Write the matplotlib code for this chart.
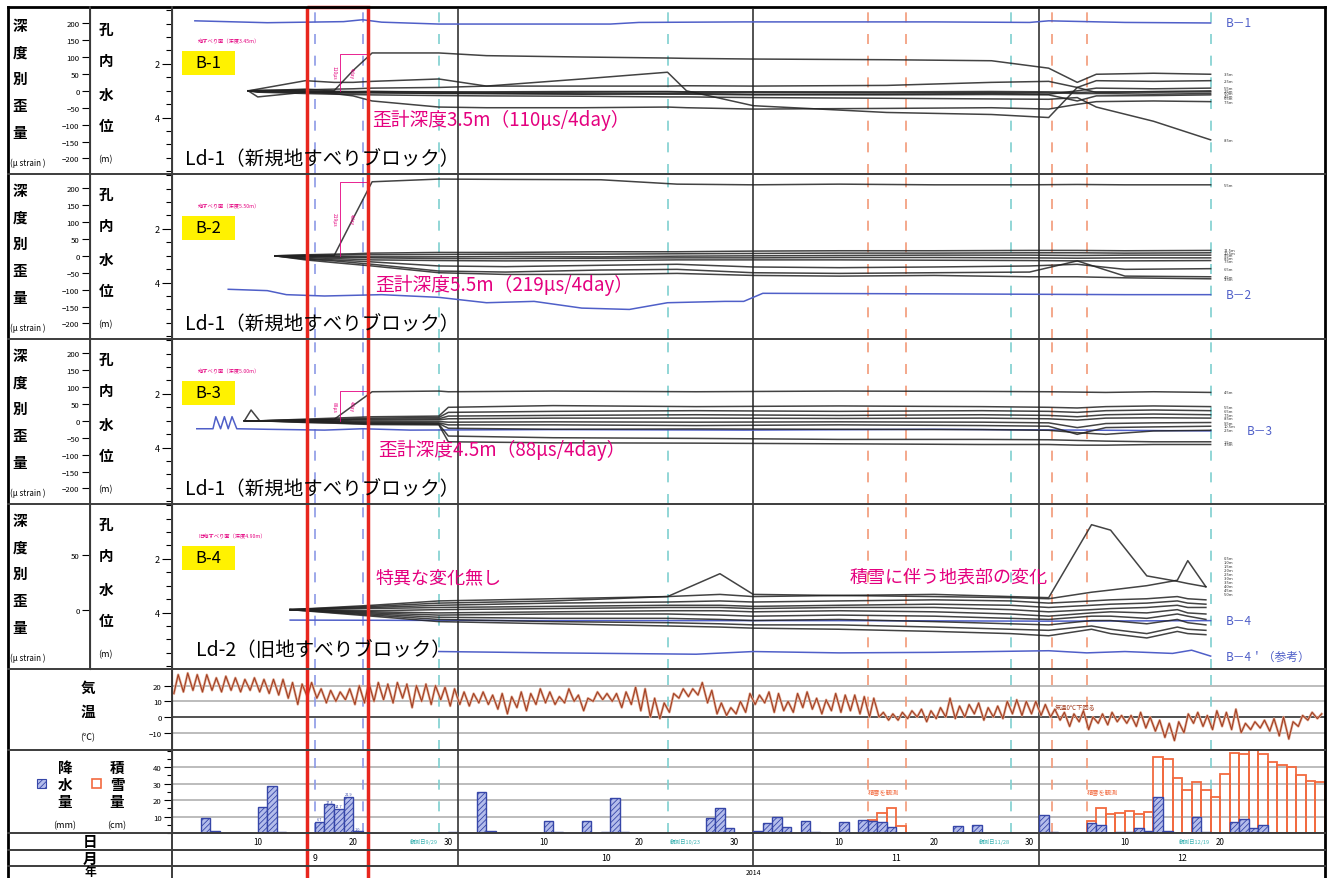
import numpy as np
import matplotlib.pyplot as plt
from matplotlib.patches import Rectangle
from matplotlib.ticker import MultipleLocator, FixedLocator

plt.rcParams['font.family'] = ['Noto Sans CJK JP', 'DejaVu Sans']
plt.rcParams['hatch.linewidth'] = 0.6

# time axis: day 0 = 2014/9/1
x_end = 121.0
month_starts = [30, 61, 91]
month_mid = [15, 45.5, 76, 106]
month_names = ['9', '10', '11', '12']
day_ticks = [9, 19, 29, 39, 49, 59, 70, 80, 90, 100, 110]
day_names = ['10', '20', '30', '10', '20', '30', '10', '20', '30', '10', '20']
blue_obs = [15, 20]
cyan_obs = [28, 52, 88, 109]
cyan_names = ['観測日9/29', '観測日10/23', '観測日11/28', '観測日12/19']
snow_marks = [73, 77, 92.4, 96]
highlight = (14.2, 20.6)

# B-1 strain (μ strain)
b1_days = [8, 9, 14, 17, 19, 21, 28, 33, 43, 52, 54, 61, 75, 86, 92, 95, 97, 103, 109]
b1_lines = [
    [0, 0, 5, 0, 60, 112, 112, 104, 100, 97, 96, 94, 92, 89, 67, 25, 49, 52, 49],
    [0, 5, 30, 25, 25, 28, 35, 14, 35, 55, 0, -44, -64, -70, -79, 10, 30, 28, 30],
    [0, -18, -4, -6, -6, -5, -8, -8, -10, -8, -8, -10, -10, -8, -10, 0, 8, 6, 8],
    [0, 0, 3, 5, 6, 8, 10, 14, 14, 14, 15, 14, 16, 25, 28, 10, -5, -2, 0],
    [0, 2, 0, -2, -3, -2, -4, -5, -4, -3, -4, -4, -6, -5, -6, -8, -8, -10, -8],
    [0, -2, -3, -5, -6, -6, -7, -8, -9, -10, -10, -12, -12, -11, -12, -30, -15, -14, -12],
    [0, -4, -8, -10, -11, -12, -14, -15, -16, -18, -18, -20, -22, -24, -25, -20, -48, -90, -145],
    [0, -3, -5, -8, -15, -30, -48, -50, -50, -48, -50, -54, -52, -50, -54, -40, -32, -30, -32],
    [0, 0, -1, -2, -2, -2, -3, -3, -2, -2, -3, -3, -3, -2, -3, -5, -3, -4, -3],
]
b1_depths = ['3.5m', '2.5m', '5.5m', '1.5m', '4.5m', '6.5m', '8.5m', '7.5m', '5.0m']
b1_wdays = [2.4, 10, 18, 20, 22, 28, 46, 49, 60, 80, 90, 92, 100, 109]
b1_water = [0.40, 0.47, 0.43, 0.36, 0.45, 0.52, 0.52, 0.46, 0.44, 0.44, 0.46, 0.40, 0.46, 0.48]

# B-2
b2_days = [10.8, 14, 17, 19, 21, 28, 35, 45, 53, 61, 70, 80, 90, 95, 100, 109]
b2_lines = [
    [0, 0, 0, 110, 219, 227, 226, 225, 212, 210, 212, 210, 210, 211, 210, 210],
    [0, 3, 5, 6, 8, 10, 10, 12, 12, 14, 15, 15, 16, 16, 15, 16],
    [0, 2, 2, 3, 3, 4, 5, 5, 6, 7, 8, 8, 9, 9, 8, 9],
    [0, -1, -2, -2, -3, -3, -2, -3, -1, 0, 1, 2, 2, 1, 2, 2],
    [0, -3, -4, -5, -6, -8, -8, -7, -6, -6, -5, -5, -6, -7, -6, -6],
    [0, -5, -8, -10, -12, -14, -15, -14, -12, -12, -12, -13, -14, -15, -15, -14],
    [0, -8, -12, -15, -18, -30, -32, -28, -25, -33, -35, -33, -30, -25, -40, -38],
    [0, -10, -15, -20, -25, -45, -48, -42, -40, -50, -52, -50, -48, -15, -60, -62],
    [0, -12, -20, -25, -30, -50, -55, -55, -52, -58, -60, -58, -62, -62, -65, -68],
]
b2_depths = ['5.5m', '11.5m', '10.5m', '9.5m', '8.5m', '7.5m', '6.5m', '4.5m', '3.5m']
b2_wdays = [5.9, 10, 12, 16, 22, 28, 33, 38, 43, 48, 52, 58, 60, 62, 80, 100, 109]
b2_water = [4.25, 4.3, 4.45, 4.5, 4.45, 4.55, 4.75, 4.7, 4.95, 5.0, 4.75, 4.7, 4.7, 4.4, 4.42, 4.45, 4.45]

# B-3
b3_days = [7.6, 8.3, 9.2, 14, 17, 19, 21, 28, 29, 40, 55, 70, 85, 92, 95, 98, 103, 109]
b3_lines = [
    [0, 32, 0, 2, 4, 45, 86, 88, 86, 88, 86, 88, 87, 86, 85, 84, 86, 84],
    [0, 0, 0, 5, 8, 10, 12, 14, 40, 45, 42, 44, 42, 40, 38, 42, 44, 42],
    [0, 0, 0, 3, 5, 6, 8, 10, 25, 28, 30, 28, 30, 28, 25, 30, 32, 30],
    [0, 0, 0, 2, 3, 4, 5, 6, 14, 16, 18, 16, 18, 16, 12, 18, 20, 18],
    [0, 0, 0, 1, 1, 2, 2, 3, 6, 8, 8, 7, 8, 6, 2, 8, 9, 8],
    [0, 0, 0, -1, -1, -2, -2, -2, -4, -3, -4, -3, -4, -6, -20, -8, -6, -5],
    [0, 0, 0, -2, -3, -4, -5, -6, -12, -12, -14, -12, -14, -16, -40, -20, -18, -16],
    [0, 0, 0, -3, -4, -6, -7, -8, -22, -25, -24, -25, -26, -28, -35, -40, -30, -28],
    [0, 0, 0, -4, -6, -8, -9, -10, -45, -50, -52, -55, -55, -56, -58, -60, -62, -62],
    [0, 0, 0, -5, -7, -9, -11, -12, -62, -65, -66, -68, -70, -70, -72, -72, -70, -70],
]
b3_depths = ['4.5m', '5.5m', '6.5m', '7.5m', '8.5m', '9.5m', '10.5m', '2.5m', '1.5m', '3.5m']
b3_wdays = [2.6, 4.3, 4.6, 5.1, 5.5, 5.9, 6.3, 6.8, 10, 16, 20, 25, 40, 60, 80, 100, 109]
b3_water = [3.30, 3.30, 2.85, 3.30, 2.85, 3.30, 2.85, 3.30, 3.32, 3.35, 3.30, 3.35, 3.33, 3.35, 3.32, 3.36, 3.38]

# B-4
b4_days = [12.4, 21, 28, 40, 52, 57.5, 61, 70, 80, 88, 92, 96.5, 98.5, 102.3, 105.5, 106.6, 108.5]
b4_lines = [
    [0, 4, 8, 10, 12, 14, 12, 13, 14, 12, 11, 78, 73, 31, 26, 24, 21],
    [0, 3, 6, 8, 12, 33, 14, 13, 12, 11, 10, 16, 18, 22, 27, 45, 21],
    [0, 2, 4, 6, 7, 8, 7, 8, 9, 8, 6, 8, 9, 10, 12, 10, 9],
    [0, 1, 2, 3, 4, 4, 3, 4, 5, 4, 2, 4, 5, 6, 8, 6, 5],
    [0, -1, 0, 1, 2, 2, 1, 2, 2, 0, -2, 0, 1, 2, 4, 2, 2],
    [0, -2, -3, -2, -1, -1, -2, -1, -2, -4, -6, -3, -2, -3, 0, -3, -4],
    [0, -3, -5, -4, -4, -5, -6, -5, -6, -8, -9, -6, -6, -8, -4, -6, -9],
    [0, -4, -7, -8, -8, -9, -10, -9, -11, -13, -14, -10, -10, -13, -9, -12, -14],
    [0, -5, -9, -11, -12, -13, -14, -14, -16, -18, -19, -15, -18, -22, -16, -18, -19],
    [0, -6, -11, -13, -15, -16, -17, -18, -20, -22, -24, -18, -22, -26, -20, -22, -23],
]
b4_depths = ['0.5m', '1.0m', '1.5m', '2.0m', '2.5m', '3.0m', '3.5m', '4.0m', '4.5m', '5.0m']
b4_wdays = [12.4, 40, 70, 92, 109]
b4_water = [4.28, 4.3, 4.3, 4.32, 4.3]
b4r_wdays = [28, 40, 55, 61, 70, 80, 92, 96, 100, 105, 107, 109]
b4r_water = [5.45, 5.5, 5.55, 5.45, 5.5, 5.48, 5.42, 5.5, 5.45, 5.52, 5.4, 5.62]

# daily air temperature (max / min, ℃)
tmax = [27, 28, 27, 27, 25, 26, 25, 24, 25, 24,
        24, 24, 22, 21, 22, 18, 17, 16, 18, 20,
        22, 22, 21, 22, 21, 20, 21, 20, 19, 18,
        16, 15, 16, 14, 15, 13, 16, 15, 18, 16,
        13, 18, 14, 12, 16, 15, 15, 16, 19, 18,
        12, 9, 15, 18, 18, 22, 17, 9, 6, 10,
        15, 14, 16, 15, 10, 15, 16, 12, 11, 15,
        14, 14, 13, 12, 3, 2, 3, 4, 5, 4,
        6, 12, 7, 8, 9, 6, 7, 10, 11, 10,
        10, 8, 5, 3, 2, 4, 0, 2, 3, 1,
        1, 3, 0, -2, -4, -3, 2, 3, 1, 4,
        3, 5, -4, -3, -2, -1, 0, -3, 1, 3, 2]
tmin = [15, 16, 17, 16, 17, 16, 17, 16, 17, 16,
        15, 14, 12, 8, 13, 12, 9, 10, 11, 8,
        9, 10, 11, 9, 12, 6, 10, 8, 11, 7,
        8, 7, 9, 8, 5, 2, 6, 4, 8, 9,
        8, 9, 10, 4, 10, 11, 10, 6, 8, 4,
        0, -1, 3, 12, 13, 14, 9, 2, 1, 2,
        3, 8, 9, 3, 4, 3, 6, 5, 2, 4,
        3, 4, 2, 0, 0, -2, -2, -1, 0, -3,
        -1, 0, -1, 0, 2, -2, 0, -1, 2, 1,
        2, 1, 0, -2, -6, -3, -8, -4, -5, -3,
        -4, -6, -7, -9, -13, -15, -10, -4, -6, -8,
        -6, -8, -10, -8, -7, -9, -12, -14, -6, -2, -1]

# daily precipitation (mm) and snow depth (cm)
rain_days = [3, 4, 9, 10, 11, 15, 16, 17, 18, 19, 29, 32, 33, 39, 40, 43, 45, 46, 47,
             56, 57, 58, 61, 62, 63, 64, 66, 67, 70, 72, 73, 74, 75, 82, 84, 91, 92,
             96, 97, 99, 100, 101, 102, 103, 104, 107, 108, 111, 112, 113, 114]
rain_mm = [9.4, 1, 16, 28.5, 0.5, 6.7, 17.4, 14.7, 21.9, 1, 0.5, 25, 1, 7.6, 0.5, 7.6, 0.5, 21, 0.5,
           9.2, 15.3, 3, 1.5, 6, 9.6, 3.5, 7.4, 0.5, 6.9, 8.2, 7, 6.5, 3.5, 4, 4.9, 11.2, 0.5,
           5.9, 4.9, 0.5, 0.5, 3, 1, 21.9, 1, 10, 0.5, 6.5, 8.6, 2.9, 4.9]
snow_days = [73, 74, 75, 76, 96, 97, 98, 99, 100, 101, 102, 103, 104, 105, 106, 107, 108,
             109, 110, 111, 112, 113, 114, 115, 116, 117, 118, 119, 120]
snow_cm = [8, 12.3, 15.3, 4.5, 7.5, 15.2, 11.5, 12.1, 13.1, 11.5, 12.5, 46.3, 45.3, 33.3, 26.3,
           31.1, 26.3, 22.2, 35.8, 48.9, 47.9, 50.5, 47.9, 43, 41.4, 40, 35, 31.5, 31]

W, H = 1329, 879
X0, X1 = 172, 1325
pink = '#E4007F'
wblue = '#4f5fc8'

fig = plt.figure(figsize=(W / 100, H / 100), dpi=100)


def box(x0, y0, x1, y1):
    return [x0 / W, 1 - y1 / H, (x1 - x0) / W, (y1 - y0) / H]


def px(d):
    return X0 + d * (X1 - X0) / x_end


def guides(a):
    for d in month_starts:
        a.axvline(d, color='#444444', lw=1.3, zorder=1)
    for d in blue_obs:
        a.axvline(d, color='#8c9ae6', lw=1.2, dashes=(6, 7), zorder=1)
    for d in cyan_obs:
        a.axvline(d, color='#7fcfcf', lw=1.2, dashes=(6, 7), zorder=1)
    for d in snow_marks:
        a.axvline(d, color='#f29a78', lw=1.2, dashes=(6, 7), zorder=1)


def depth_labels(a, ends, names, gap, start=None):
    order = np.argsort(ends)[::-1]
    prev = None
    for k, i in enumerate(order):
        if start is not None:
            y = start - k * gap
        else:
            y = ends[i]
            if prev is not None and y > prev - gap:
                y = prev - gap
        a.text(110.4, y, names[i], fontsize=3.0, va='center', color='#333333')
        prev = y


def strain_panel(top, bot, s_lim, s_ticks, days, lines):
    ax = fig.add_axes(box(X0, top, X1, bot))
    ax.set_xlim(0, x_end)
    ax.set_ylim(6.1, -0.04)
    ax.set_xticks([])
    ax.yaxis.set_major_locator(FixedLocator([2, 4]))
    ax.yaxis.set_minor_locator(MultipleLocator(0.5))
    ax.tick_params(axis='y', which='major', length=7, width=0.8, labelsize=6.5, pad=2)
    ax.tick_params(axis='y', which='minor', length=4.5, width=0.8)
    for s in ax.spines.values():
        s.set_visible(False)
    ax.spines['left'].set_visible(True)
    guides(ax)
    axs = ax.twinx()
    axs.set_xlim(0, x_end)
    axs.set_ylim(*s_lim)
    axs.yaxis.set_ticks_position('left')
    axs.spines['left'].set_position(('outward', 59))
    for k in ['right', 'top', 'bottom']:
        axs.spines[k].set_visible(False)
    axs.set_yticks(s_ticks)
    axs.tick_params(axis='y', length=6, width=0.8, labelsize=5.6, pad=1.5)
    for vals in lines:
        axs.plot(days, vals, color='#222222', lw=1.1, alpha=0.85, zorder=3)
    return ax, axs


s_ticks = [200, 150, 100, 50, 0, -50, -100, -150, -200]
s_lim = (-246, 242)

ax1, as1 = strain_panel(10, 175, s_lim, s_ticks, b1_days, b1_lines)
ax1.plot(b1_wdays, b1_water, color=wblue, lw=1.1)
ax1.text(110.6, b1_water[-1], 'B－1', color=wblue, fontsize=8.5, va='center')
depth_labels(as1, [v[-1] for v in b1_lines], b1_depths, 7)

ax2, as2 = strain_panel(175, 340, s_lim, s_ticks, b2_days, b2_lines)
ax2.plot(b2_wdays, b2_water, color=wblue, lw=1.1)
ax2.text(110.6, b2_water[-1], 'B－2', color=wblue, fontsize=8.5, va='center')
depth_labels(as2, [v[-1] for v in b2_lines], b2_depths, 7)

ax3, as3 = strain_panel(340, 505, s_lim, s_ticks, b3_days, b3_lines)
ax3.plot(b3_wdays, b3_water, color=wblue, lw=1.1)
ax3.text(112.8, b3_water[-1], 'B－3', color=wblue, fontsize=8.5, va='center')
depth_labels(as3, [v[-1] for v in b3_lines], b3_depths, 6)

ax4, as4 = strain_panel(505, 670, (-54.5, 97), [50, 0], b4_days, b4_lines)
ax4.plot(b4_wdays, b4_water, color=wblue, lw=1.1)
ax4.plot(b4r_wdays, b4r_water, color=wblue, lw=1.1)
ax4.text(110.6, b4_water[-1], 'B－4', color=wblue, fontsize=8.5, va='center')
ax4.text(110.6, b4r_water[-1], 'B－4＇（参考）', color=wblue, fontsize=8.5, va='center')
depth_labels(as4, [v[-1] for v in b4_lines], b4_depths, 3.6, start=47)

# pink rate brackets
for a, jump in [(as1, 110), (as2, 219), (as3, 88)]:
    a.plot([17.6, 17.6, 20.5], [0, jump, jump], color=pink, lw=0.6, zorder=4)
    a.text(17.0, jump / 2, '%dμs' % jump, color=pink, fontsize=3.5, rotation=270,
           ha='center', va='center')
    a.text(18.8, jump / 2, '4day', color=pink, fontsize=3.5, rotation=270,
           ha='center', va='center')

# temperature
axt = fig.add_axes(box(X0, 670, X1, 751))
axt.set_xlim(0, x_end)
axt.set_ylim(-21, 30.6)
axt.set_xticks([])
axt.set_yticks([20, 10, 0, -10])
axt.tick_params(axis='y', length=6, width=0.8, labelsize=5.6, pad=1.5)
for s in axt.spines.values():
    s.set_visible(False)
axt.spines['left'].set_visible(True)
for v in [20, 10, -10]:
    axt.axhline(v, color='#b0b0b0', lw=1.2, zorder=0)
axt.axhline(0, color='#333333', lw=1.2, zorder=0)
guides(axt)
tx, ty = [], []
for d in range(len(tmax)):
    tx += [d + 0.2, d + 0.65]
    ty += [tmin[d], tmax[d]]
axt.plot(tx, ty, color='#e3b09b', lw=1.8, zorder=2)
axt.plot(tx, ty, color='#a23f22', lw=0.8, zorder=3)
axt.text(92.6, 4, '気温0℃下回る', color='#a23f22', fontsize=4.5, va='bottom')

# precipitation / snow depth
axp = fig.add_axes(box(X0, 751, X1, 834))
axp.set_xlim(0, x_end)
axp.set_ylim(0, 50.5)
axp.set_xticks([])
axp.set_yticks([10, 20, 30, 40])
axp.yaxis.set_minor_locator(MultipleLocator(5))
axp.tick_params(axis='y', which='major', length=6, width=0.8, labelsize=5.6, pad=1.5)
axp.tick_params(axis='y', which='minor', length=3.5, width=0.8)
for s in axp.spines.values():
    s.set_visible(False)
axp.spines['left'].set_visible(True)
for v in [10, 20, 30, 40]:
    axp.axhline(v, color='#b0b0b0', lw=1.2, zorder=0)
guides(axp)
axp.bar(snow_days, snow_cm, width=1, align='edge', fill=False, edgecolor='#f26a3f',
        lw=1.3, zorder=2)
axp.bar(rain_days, rain_mm, width=1, align='edge', facecolor='#b4bdeb', hatch='//////',
        edgecolor='#3646a8', lw=1.0, zorder=3)
for d, v in zip(rain_days, rain_mm):
    if 15 <= d <= 19:
        axp.text(d + 0.5, v + 0.5, '%.1f' % v, color='#3646a8', fontsize=2.8,
                 ha='center', va='bottom')
axp.text(73, 25, '積雪を観測', color='#f26a3f', fontsize=4.5, va='center')
axp.text(96, 25, '積雪を観測', color='#f26a3f', fontsize=4.5, va='center')

# day / month rows
axd = fig.add_axes(box(X0, 834, X1, 867))
axd.set_xlim(0, x_end)
axd.set_ylim(0, 33)
axd.axis('off')
for d in month_starts:
    axd.axvline(d, color='#444444', lw=1.3)
for d, n in zip(day_ticks, day_names):
    axd.text(d, 24.5, n, fontsize=5.8, ha='center', va='center')
for d, n in zip(month_mid, month_names):
    axd.text(d, 8, n, fontsize=6.3, ha='center', va='center')
for d, n in zip(cyan_obs, cyan_names):
    ha = 'left' if n.endswith('10/23') else 'right'
    axd.text(d + (0.2 if ha == 'left' else -0.1), 24.5, n, color='#3ab3b3',
             fontsize=4, ha=ha, va='center')

# overlay: frame, left captions, panel texts
ov = fig.add_axes([0, 0, 1, 1], zorder=20)
ov.set_xlim(0, W)
ov.set_ylim(H, 0)
ov.axis('off')
dark = '#3c3c3c'
ov.plot([8, 1325], [8, 8], color='k', lw=2)
ov.plot([8, 8], [8, H], color='k', lw=2)
ov.plot([1325, 1325], [8, H], color='k', lw=2)
for y in [175, 340, 505, 670, 751, 834, 851, 867]:
    ov.plot([8, 1325], [y, y], color=dark, lw=1.4)
ov.plot([90, 90], [8, 670], color=dark, lw=1.4)
ov.plot([172, 172], [8, H], color=dark, lw=1.4)

cap = dict(fontsize=10.5, fontweight='bold', ha='center', va='center')
slip_txt = ['地すべり面（深度3.45m）', '地すべり面（深度5.50m）', '地すべり面（深度5.00m）',
            '旧地すべり面（深度4.90m）']
b_names = ['B-1', 'B-2', 'B-3', 'B-4']
rate_txt = ['歪計深度3.5m（110μs/4day）', '歪計深度5.5m（219μs/4day）', '歪計深度4.5m（88μs/4day）']
rate_x = [372, 375, 378]
block_txt = ['Ld-1（新規地すべりブロック）'] * 3 + ['Ld-2（旧地すべりブロック）']
for i, top in enumerate([10, 175, 340, 505]):
    off = top - 10
    for ch, yy in zip('深度別歪量', [26, 53, 79, 106, 133]):
        ov.text(20, yy + off, ch, **cap)
    ov.text(10, 163 + off, '(μ strain )', fontsize=5.8, ha='left', va='center')
    for ch, yy in zip('孔内水位', [30, 61, 95, 126]):
        ov.text(106, yy + off, ch, **cap)
    ov.text(98, 160 + off, '(m)', fontsize=6.5, ha='left', va='center')
    ov.text(198, 42 + off, slip_txt[i], color=pink, fontsize=3.8, ha='left', va='center')
    ov.add_patch(Rectangle((182, 52 + off), 53, 24, facecolor='#FFF200', edgecolor='none'))
    ov.text(208, 64 + off, b_names[i], fontsize=12, ha='center', va='center')
    if i < 3:
        ov.text(rate_x[i], 120 + off, rate_txt[i], color=pink, fontsize=13.5, ha='left',
                va='center')
        ov.text(185, 160 + off, block_txt[i], fontsize=14, ha='left', va='center')
    else:
        ov.text(196, 651, block_txt[i], fontsize=14, ha='left', va='center')
ov.text(375, 578, '特異な変化無し', color=pink, fontsize=13, ha='left', va='center')
ov.text(850, 578, '積雪に伴う地表部の変化', color=pink, fontsize=13, ha='left', va='center')

ov.text(88, 688, '気', **cap)
ov.text(88, 712, '温', **cap)
ov.text(88, 738, '(℃)', fontsize=6.5, ha='center', va='center')
for ch, yy in zip('降水量', [768, 785, 802]):
    ov.text(65, yy, ch, **cap)
for ch, yy in zip('積雪量', [768, 785, 802]):
    ov.text(117, yy, ch, **cap)
ov.text(65, 826, '(mm)', fontsize=6.5, ha='center', va='center')
ov.text(117, 826, '(cm)', fontsize=6.5, ha='center', va='center')
ov.add_patch(Rectangle((37, 780), 9, 9, facecolor='#b4bdeb', edgecolor='#3646a8',
                       hatch='//////', lw=0.8))
ov.add_patch(Rectangle((92, 780), 9, 9, facecolor='none', edgecolor='#f26a3f', lw=1.2))
ov.text(90, 842, '日', **cap)
ov.text(90, 859, '月', **cap)
ov.text(90, 873, '年', fontsize=8.5, fontweight='bold', ha='center', va='center')
ov.text(px(61), 873, '2014', fontsize=5, ha='center', va='center')

# highlighted period
ov.add_patch(Rectangle((px(highlight[0]), 8), px(highlight[1]) - px(highlight[0]), H,
                       fill=False, edgecolor='#E8261E', lw=2.5))

fig.savefig('out.png', dpi=100)
